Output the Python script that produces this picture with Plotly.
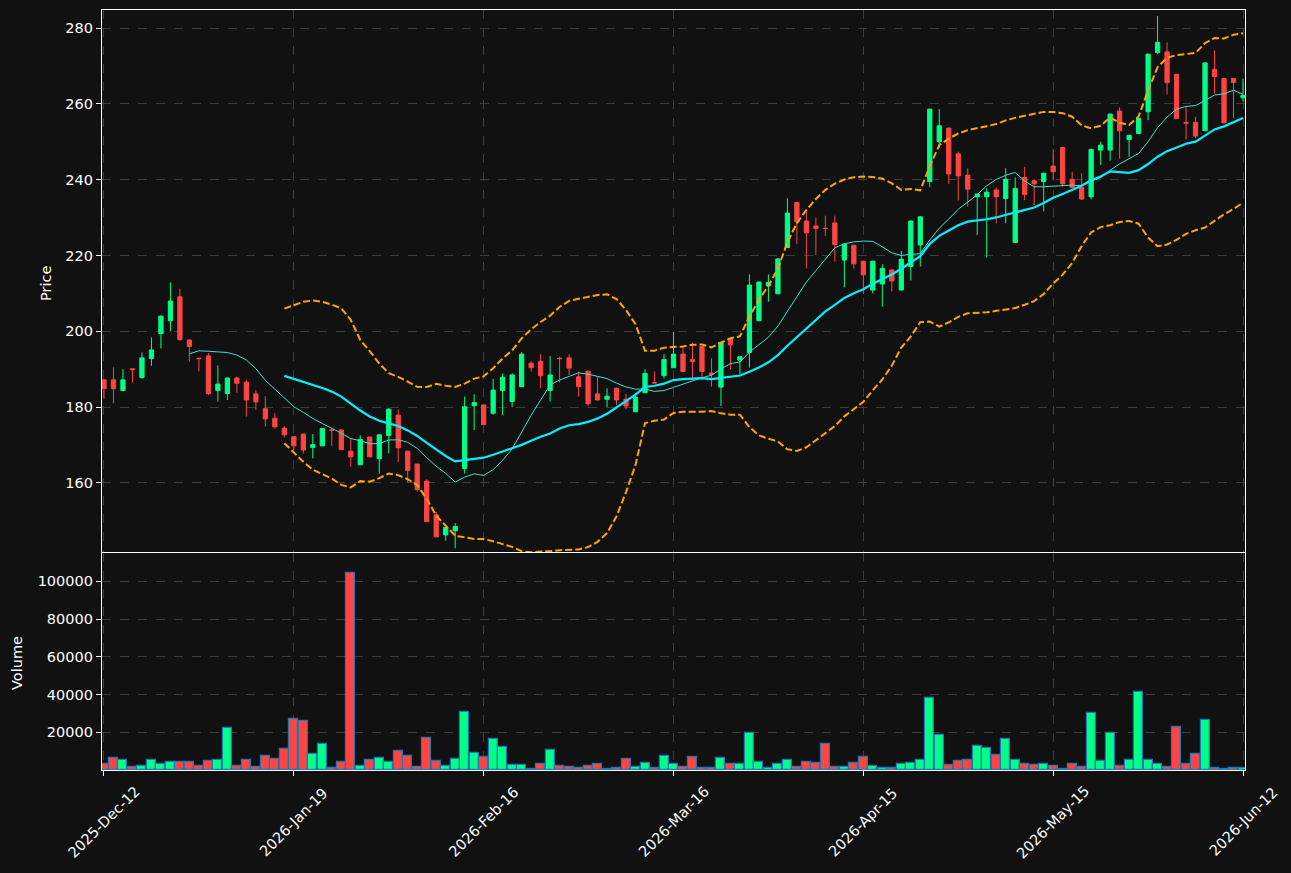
import plotly.graph_objects as go
import pandas as pd

# ---------------- data ----------------
tick_idx = [0, 20, 40, 60, 80, 100, 120]
tick_labels = ["2025-Dec-12", "2026-Jan-19", "2026-Feb-16", "2026-Mar-16",
               "2026-Apr-15", "2026-May-15", "2026-Jun-12"]

opens = [187.2, 187.2, 184.4, 190.1, 187.8, 192.8, 199.4, 202.8, 209.1, 197.7,
         192.9, 193.5, 184.4, 183.6, 187.7, 186.6, 183.5, 179.6, 177.1, 174.5,
         172.2, 172.9, 169.4, 169.8, 174.0, 174.0, 168.4, 164.8, 172.1, 166.4,
         172.5, 177.9, 168.4, 165.0, 160.5, 151.6, 146.3, 147.4, 163.8, 180.4,
         180.6, 178.4, 184.4, 181.5, 185.4, 191.6, 192.1, 184.4, 192.9, 193.0,
         188.0, 189.5, 183.5, 182.1, 185.0, 182.1, 178.8, 183.8, 186.5, 188.3,
         190.4, 194.0, 192.6, 196.0, 189.0, 185.3, 197.9, 192.4, 194.4, 202.8,
         212.0, 209.9, 222.1, 234.0, 229.1, 227.8, 227.2, 228.6, 218.8, 222.7,
         218.5, 210.9, 212.5, 216.2, 210.9, 217.1, 222.8, 239.5, 250.0, 253.6,
         246.8, 241.2, 235.5, 235.5, 237.3, 235.0, 223.4, 240.6, 239.7, 239.5,
         243.6, 248.5, 240.1, 238.0, 235.5, 247.8, 247.8, 258.1, 250.6, 252.2,
         257.9, 273.5, 273.7, 267.8, 255.1, 255.1, 252.9, 269.1, 266.7, 266.7,
         261.6]
highs = [187.3, 190.5, 190.0, 190.1, 194.4, 198.4, 204.2, 212.9, 211.2, 197.9,
         193.0, 194.2, 191.0, 187.8, 188.0, 187.2, 184.5, 182.9, 178.4, 175.0,
         172.4, 173.0, 172.9, 174.5, 174.6, 174.1, 171.8, 172.6, 172.2, 172.8,
         179.6, 179.4, 168.5, 165.1, 161.0, 152.4, 148.4, 149.4, 182.8, 183.4,
         180.7, 187.5, 188.9, 188.9, 194.5, 192.1, 194.0, 193.5, 193.3, 194.0,
         189.4, 189.6, 188.0, 185.0, 185.1, 183.5, 183.5, 190.0, 189.4, 194.0,
         199.9, 196.0, 197.0, 196.1, 192.9, 197.2, 198.0, 193.4, 215.0, 213.1,
         215.0, 219.2, 235.1, 234.1, 231.6, 230.0, 230.5, 230.5, 223.1, 222.8,
         218.6, 218.6, 217.7, 216.3, 221.2, 229.2, 230.3, 258.7, 258.6, 253.7,
         247.4, 243.0, 236.3, 237.7, 238.0, 243.0, 240.6, 243.4, 240.1, 241.8,
         248.0, 248.6, 242.1, 241.7, 248.1, 250.0, 257.4, 259.1, 251.8, 256.3,
         273.2, 283.2, 276.2, 267.9, 259.1, 256.6, 270.9, 274.1, 266.8, 266.8,
         266.7]
lows = [182.1, 181.0, 184.2, 186.5, 187.5, 190.9, 195.5, 200.0, 197.6, 192.0,
        189.4, 183.2, 181.5, 181.9, 183.8, 177.5, 179.3, 174.9, 174.3, 172.0,
        168.7, 167.8, 166.5, 169.7, 169.8, 168.7, 164.3, 164.7, 166.8, 162.5,
        167.8, 165.5, 160.0, 157.7, 149.7, 145.7, 144.8, 142.8, 162.5, 174.0,
        175.3, 178.0, 177.9, 180.0, 185.3, 189.4, 185.0, 181.5, 186.5, 188.5,
        182.8, 180.4, 181.8, 180.0, 180.6, 179.4, 178.7, 183.7, 186.3, 187.6,
        190.3, 189.3, 187.2, 187.2, 185.4, 180.3, 190.0, 188.7, 190.4, 202.7,
        207.8, 209.8, 222.0, 223.0, 216.6, 220.1, 225.1, 218.4, 211.6, 216.5,
        209.8, 210.0, 206.5, 210.5, 210.8, 213.4, 217.1, 238.0, 248.3, 238.9,
        234.5, 232.9, 225.4, 219.5, 228.5, 228.5, 223.3, 234.6, 233.3, 231.6,
        240.0, 238.2, 237.8, 234.6, 234.8, 243.9, 245.0, 245.6, 246.1, 252.0,
        255.7, 273.1, 262.5, 256.0, 250.6, 250.9, 252.8, 262.7, 254.9, 256.2,
        260.6]
closes = [184.9, 184.9, 187.2, 189.9, 193.0, 195.1, 204.0, 208.0, 197.8, 196.0,
          192.8, 183.6, 186.1, 187.7, 186.3, 181.9, 181.4, 176.9, 174.8, 172.7,
          169.8, 168.7, 170.1, 174.4, 173.9, 168.8, 166.9, 171.5, 166.9, 172.7,
          179.5, 169.3, 163.3, 158.3, 149.8, 145.8, 148.3, 148.5, 180.1, 181.2,
          175.4, 184.5, 187.9, 188.5, 194.0, 190.4, 188.3, 188.5, 192.8, 190.3,
          185.4, 180.9, 181.9, 182.9, 181.9, 180.3, 182.6, 188.9, 186.4, 192.6,
          194.0, 189.4, 192.0, 189.4, 188.6, 197.1, 196.4, 193.3, 212.2, 213.0,
          212.9, 219.1, 231.2, 228.9, 226.0, 227.1, 227.1, 222.9, 223.0, 217.8,
          214.9, 218.5, 216.6, 213.3, 219.0, 229.1, 230.2, 258.6, 254.2, 241.5,
          241.0, 237.5, 236.2, 236.7, 235.5, 240.1, 237.7, 236.1, 238.9, 241.7,
          242.1, 238.9, 237.9, 234.9, 248.0, 249.1, 257.3, 252.9, 251.7, 256.2,
          273.1, 276.2, 265.6, 256.1, 254.9, 251.5, 270.8, 267.2, 255.0, 265.6,
          262.2]
volumes = [3200, 6400, 5300, 1600, 2150, 5300, 3200, 4300, 4300, 4300,
           2150, 5000, 5300, 22300, 2150, 5300, 1600, 7450, 5900, 11200,
           27000, 26000, 8500, 13800, 1100, 4300, 104400, 2150, 5300, 6400,
           4300, 10100, 7450, 1600, 17000, 4800, 2150, 5900, 30800, 9000,
           6900, 16500, 12200, 2500, 2500, 700, 3200, 10600, 2000, 1600,
           1100, 2000, 3200, 700, 1100, 5900, 1600, 3700, 1100, 7450,
           3200, 1600, 6900, 1100, 1100, 6400, 3200, 3200, 19600, 4300,
           1100, 3200, 5300, 1600, 4300, 3700, 13800, 1600, 1600, 3700,
           6900, 2150, 1100, 1100, 3200, 3700, 5300, 38200, 18600, 2700,
           4800, 5300, 12750, 11700, 8000, 16500, 5300, 3200, 2700, 3200,
           2150, 700, 3200, 1600, 30200, 4800, 19600, 2150, 5300, 41350,
           5300, 3200, 1600, 22800, 3200, 8500, 26500, 1100, 700, 1100,
           1100]

# ---------------- derived indicators ----------------
idx = list(range(len(closes)))
cs = pd.Series(closes)
ma10 = cs.rolling(10).mean()
ma20 = cs.rolling(20).mean()
sd20 = cs.rolling(20).std(ddof=0)
upper = ma20 + 2 * sd20
lower = ma20 - 2 * sd20

UP = "#00ff88"
DN = "#ff4444"
BG = "#111111"
GRID = "#3d3d3d"
FONT = "DejaVu Sans"
W, H = 1291, 873

vol_colors = [UP if c >= o else DN for o, c in zip(opens, closes)]

def px_x(p):
    return p / W

def px_y(p):
    return 1 - p / H

fig = go.Figure()

fig.add_trace(go.Candlestick(
    x=idx, open=opens, high=highs, low=lows, close=closes,
    increasing=dict(line=dict(color=UP, width=1), fillcolor=UP),
    decreasing=dict(line=dict(color=DN, width=1), fillcolor=DN),
    whiskerwidth=0, showlegend=False, hoverinfo="skip",
    xaxis="x", yaxis="y"))

fig.add_trace(go.Scatter(x=idx, y=ma10, mode="lines",
                         line=dict(color="#40E0D0", width=1),
                         showlegend=False, xaxis="x", yaxis="y"))
fig.add_trace(go.Scatter(x=idx, y=ma20, mode="lines",
                         line=dict(color="#00F0FF", width=2.2),
                         showlegend=False, xaxis="x", yaxis="y"))
for band in (upper, lower):
    fig.add_trace(go.Scatter(x=idx, y=band, mode="lines",
                             line=dict(color="#FFA500", width=2, dash="7px,3px"),
                             showlegend=False, xaxis="x", yaxis="y"))

fig.add_trace(go.Bar(x=idx, y=volumes, width=0.95,
                     marker=dict(color=vol_colors, line=dict(color="#1f77b4", width=1.2)),
                     showlegend=False, xaxis="x2", yaxis="y2"))

xdom = [px_x(102), px_x(1245)]
axis_common = dict(showline=True, mirror=True, linecolor="white", linewidth=1.2,
                   showgrid=True, gridcolor=GRID, griddash="dash", gridwidth=1,
                   zeroline=False, tickfont=dict(family=FONT, size=14.5, color="white"))

fig.update_layout(
    width=W, height=H,
    margin=dict(l=0, r=0, t=0, b=0),
    paper_bgcolor=BG, plot_bgcolor=BG,
    font=dict(family=FONT, color="white", size=14.5),
    showlegend=False,
    bargap=0,
    boxgap=0.36,
    xaxis=dict(domain=xdom, anchor="y", range=[-0.21, 120.21],
               tickvals=tick_idx, showticklabels=False, ticks="",
               rangeslider=dict(visible=False), **axis_common),
    yaxis=dict(domain=[px_y(552), px_y(10)], anchor="x", range=[141.8, 284.75],
               tickvals=[160, 180, 200, 220, 240, 260, 280],
               ticks="outside", ticklen=5, tickcolor="white", **axis_common),
    xaxis2=dict(domain=xdom, anchor="y2", matches="x", range=[-0.21, 120.21],
                tickvals=tick_idx, showticklabels=False,
                ticks="outside", ticklen=5, tickcolor="white", **axis_common),
    yaxis2=dict(domain=[px_y(770), px_y(553)], anchor="x2", range=[0, 115000],
                tickvals=[20000, 40000, 60000, 80000, 100000],
                ticktext=["20000", "40000", "60000", "80000", "100000"],
                ticks="outside", ticklen=5, tickcolor="white", **axis_common),
)

annotations = []
for t, lab in zip(tick_idx, tick_labels):
    annotations.append(dict(x=t, xref="x2", y=px_y(822), yref="paper",
                            text=lab, showarrow=False, textangle=-45,
                            xanchor="center", yanchor="middle",
                            font=dict(family=FONT, size=14.5, color="white")))
annotations.append(dict(x=px_x(46), y=px_y(284), xref="paper", yref="paper",
                        text="Price", showarrow=False, textangle=-90,
                        xanchor="center", yanchor="middle",
                        font=dict(family=FONT, size=14.5, color="white")))
annotations.append(dict(x=px_x(17), y=px_y(663), xref="paper", yref="paper",
                        text="Volume", showarrow=False, textangle=-90,
                        xanchor="center", yanchor="middle",
                        font=dict(family=FONT, size=14.5, color="white")))
fig.update_layout(annotations=annotations)

fig.write_html("out.html")
